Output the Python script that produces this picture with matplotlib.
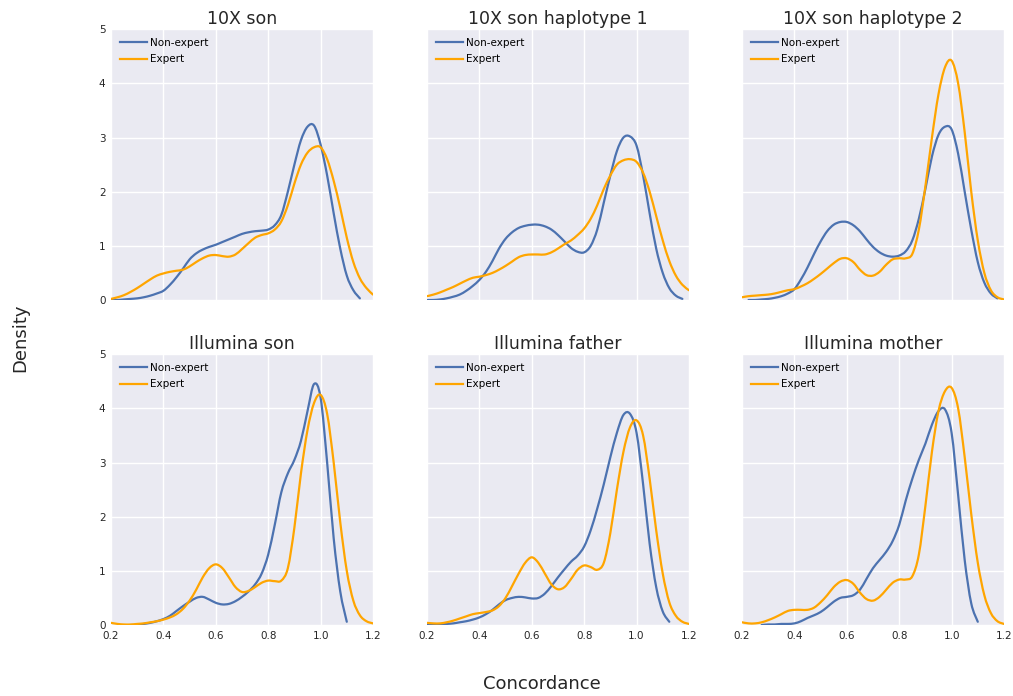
import numpy as np
import matplotlib.pyplot as plt
from matplotlib.path import Path
from matplotlib.patches import PathPatch

# concordance grid shared by every density curve
conc = np.round(np.arange(0.2, 1.2001, 0.025), 3)
nan = np.nan

titles = ["10X son", "10X son haplotype 1", "10X son haplotype 2",
          "Illumina son", "Illumina father", "Illumina mother"]

son10x_non = [0.0, 0.0, 0.01, 0.02, 0.03, 0.05, 0.08, 0.12, 0.17, 0.28, 0.42, 0.58, 0.75, 0.86,
              0.93, 0.98, 1.02, 1.07, 1.12, 1.17, 1.22, 1.25, 1.27, 1.28, 1.30, 1.38, 1.57, 2.0,
              2.5, 2.95, 3.2, 3.22, 2.87, 2.3, 1.6, 0.95, 0.45, 0.18, 0.03, nan, nan]
son10x_exp = [0.02, 0.05, 0.09, 0.15, 0.22, 0.3, 0.38, 0.45, 0.49, 0.52, 0.54, 0.56, 0.62, 0.7,
              0.77, 0.82, 0.83, 0.81, 0.80, 0.84, 0.94, 1.05, 1.15, 1.2, 1.23, 1.3, 1.45, 1.75,
              2.15, 2.5, 2.72, 2.82, 2.82, 2.6, 2.2, 1.7, 1.15, 0.7, 0.4, 0.22, 0.1]

hap1_non = [0.0, 0.0, 0.01, 0.03, 0.06, 0.1, 0.17, 0.26, 0.37, 0.52, 0.72, 0.95, 1.13, 1.25,
            1.33, 1.37, 1.39, 1.39, 1.36, 1.3, 1.2, 1.08, 0.96, 0.89, 0.88, 1.0, 1.3, 1.8,
            2.3, 2.75, 3.0, 3.02, 2.85, 2.3, 1.6, 0.95, 0.5, 0.22, 0.08, 0.02, nan]
hap1_exp = [0.07, 0.1, 0.14, 0.19, 0.24, 0.3, 0.36, 0.41, 0.43, 0.46, 0.5, 0.56, 0.63, 0.71,
            0.79, 0.83, 0.84, 0.84, 0.84, 0.88, 0.95, 1.03, 1.1, 1.2, 1.32, 1.5, 1.75, 2.05,
            2.3, 2.5, 2.58, 2.6, 2.55, 2.35, 2.0, 1.55, 1.1, 0.72, 0.45, 0.28, 0.18]

hap2_non = [nan, 0.0, 0.0, 0.01, 0.02, 0.04, 0.07, 0.12, 0.2, 0.38, 0.6, 0.85, 1.08, 1.27,
            1.39, 1.44, 1.44, 1.38, 1.27, 1.12, 0.98, 0.88, 0.82, 0.8, 0.82, 0.9, 1.1, 1.5,
            2.05, 2.65, 3.05, 3.2, 3.15, 2.7, 2.0, 1.3, 0.7, 0.32, 0.12, 0.03, nan]
hap2_exp = [0.05, 0.07, 0.08, 0.09, 0.1, 0.12, 0.15, 0.18, 0.2, 0.25, 0.31, 0.39, 0.48, 0.58,
            0.68, 0.76, 0.77, 0.7, 0.56, 0.46, 0.45, 0.52, 0.65, 0.75, 0.77, 0.77, 0.85, 1.3,
            2.1, 3.0, 3.8, 4.3, 4.42, 4.0, 3.1, 2.0, 1.1, 0.5, 0.18, 0.05, 0.01]

ilson_non = [nan, nan, nan, 0.0, 0.0, 0.02, 0.04, 0.07, 0.11, 0.17, 0.26, 0.35, 0.43, 0.5,
             0.52, 0.47, 0.41, 0.38, 0.39, 0.44, 0.52, 0.62, 0.75, 0.95, 1.3, 1.85, 2.45, 2.8,
             3.05, 3.4, 3.95, 4.45, 4.2, 3.0, 1.6, 0.62, 0.06, nan, nan, nan, nan]
ilson_exp = [0.04, 0.02, 0.01, 0.01, 0.02, 0.03, 0.05, 0.07, 0.1, 0.14, 0.2, 0.3, 0.45, 0.65,
             0.88, 1.05, 1.12, 1.05, 0.88, 0.7, 0.61, 0.63, 0.7, 0.78, 0.82, 0.81, 0.82, 1.05,
             1.8, 2.8, 3.6, 4.1, 4.25, 3.9, 3.0, 1.9, 1.0, 0.45, 0.18, 0.07, 0.03]

father_non = [0.02, 0.01, 0.01, 0.02, 0.03, 0.05, 0.07, 0.1, 0.14, 0.2, 0.28, 0.38, 0.46, 0.5,
              0.52, 0.51, 0.49, 0.5, 0.58, 0.72, 0.88, 1.03, 1.17, 1.28, 1.45, 1.75, 2.15, 2.6,
              3.1, 3.55, 3.88, 3.9, 3.55, 2.6, 1.5, 0.7, 0.25, 0.06, nan, nan, nan]
father_exp = [0.04, 0.03, 0.03, 0.05, 0.08, 0.12, 0.16, 0.2, 0.22, 0.24, 0.27, 0.35, 0.5, 0.72,
              0.95, 1.15, 1.25, 1.15, 0.95, 0.75, 0.66, 0.7, 0.85, 1.02, 1.1, 1.07, 1.02, 1.15,
              1.7, 2.5, 3.2, 3.65, 3.78, 3.5, 2.7, 1.75, 0.95, 0.42, 0.17, 0.06, 0.02]

mother_non = [nan, nan, nan, 0.0, 0.01, 0.01, 0.02, 0.02, 0.03, 0.07, 0.13, 0.18, 0.24, 0.33,
              0.43, 0.5, 0.52, 0.55, 0.65, 0.85, 1.05, 1.2, 1.35, 1.55, 1.85, 2.3, 2.7, 3.05,
              3.35, 3.7, 3.95, 3.98, 3.55, 2.4, 1.2, 0.4, 0.06, nan, nan, nan, nan]
mother_exp = [0.05, 0.03, 0.03, 0.05, 0.09, 0.14, 0.2, 0.26, 0.28, 0.28, 0.28, 0.32, 0.42, 0.55,
              0.7, 0.8, 0.83, 0.76, 0.6, 0.48, 0.45, 0.52, 0.65, 0.78, 0.84, 0.84, 0.9, 1.3,
              2.2, 3.2, 3.95, 4.32, 4.38, 4.0, 3.1, 2.05, 1.15, 0.55, 0.22, 0.07, 0.02]

non_expert = [son10x_non, hap1_non, hap2_non, ilson_non, father_non, mother_non]
expert = [son10x_exp, hap1_exp, hap2_exp, ilson_exp, father_exp, mother_exp]

BLUE = '#4C72B0'
ORANGE = 'orange'


def curve_path(x, y):
    # bezier path through the points (catmull-rom tangents) so the kde looks smooth
    y = np.asarray(y, dtype=float)
    ok = ~np.isnan(y)
    pts = np.column_stack([x[ok], y[ok]])
    verts = [pts[0]]
    codes = [Path.MOVETO]
    n = len(pts)
    for k in range(n - 1):
        p0 = pts[k - 1] if k > 0 else pts[k]
        p1, p2 = pts[k], pts[k + 1]
        p3 = pts[k + 2] if k + 2 < n else pts[k + 1]
        verts += [p1 + (p2 - p0) / 6, p2 - (p3 - p1) / 6, p2]
        codes += [Path.CURVE4] * 3
    return Path(verts, codes)


plt.rcParams['font.family'] = 'DejaVu Sans'
fig = plt.figure(figsize=(10.13, 6.96), dpi=100)

lefts = [0.1096, 0.4215, 0.7325]
bottoms = [0.569, 0.102]
w, h = 0.2586, 0.389

for i in range(6):
    r, c = divmod(i, 3)
    ax = fig.add_axes([lefts[c], bottoms[r], w, h])
    ax.set_facecolor('#EAEAF2')
    for s in ax.spines.values():
        s.set_visible(False)
    ax.grid(True, color='white', linewidth=1.0)
    ax.set_axisbelow(True)
    for vals, col in [(non_expert[i], BLUE), (expert[i], ORANGE)]:
        ax.add_patch(PathPatch(curve_path(conc, vals), fill=False, edgecolor=col,
                               lw=1.6, capstyle='round', joinstyle='round'))
    # legend entries
    ax.plot([], [], color=BLUE, lw=1.6, label='Non-expert')
    ax.plot([], [], color=ORANGE, lw=1.6, label='Expert')
    ax.set_xlim(0.2, 1.2)
    ax.set_ylim(0, 5)
    ax.set_xticks([0.2, 0.4, 0.6, 0.8, 1.0, 1.2])
    ax.set_yticks(range(6))
    ax.tick_params(length=0, labelsize=7.5, colors='#262626', pad=4)
    if c > 0:
        ax.set_yticklabels([])
    if r == 0:
        ax.set_xticklabels([])
    ax.set_title(titles[i], fontsize=12.5, color='#262626', pad=4)
    ax.legend(loc='upper left', frameon=False, fontsize=7.5, handlelength=2.6,
              handletextpad=0.3, borderaxespad=0.45, labelspacing=0.6)

fig.text(0.535, 0.017, 'Concordance', ha='center', va='center', fontsize=13, color='#262626')
fig.text(0.020, 0.515, 'Density', ha='center', va='center', rotation=90, fontsize=13,
         color='#262626')

fig.savefig('out.png', dpi=100)
